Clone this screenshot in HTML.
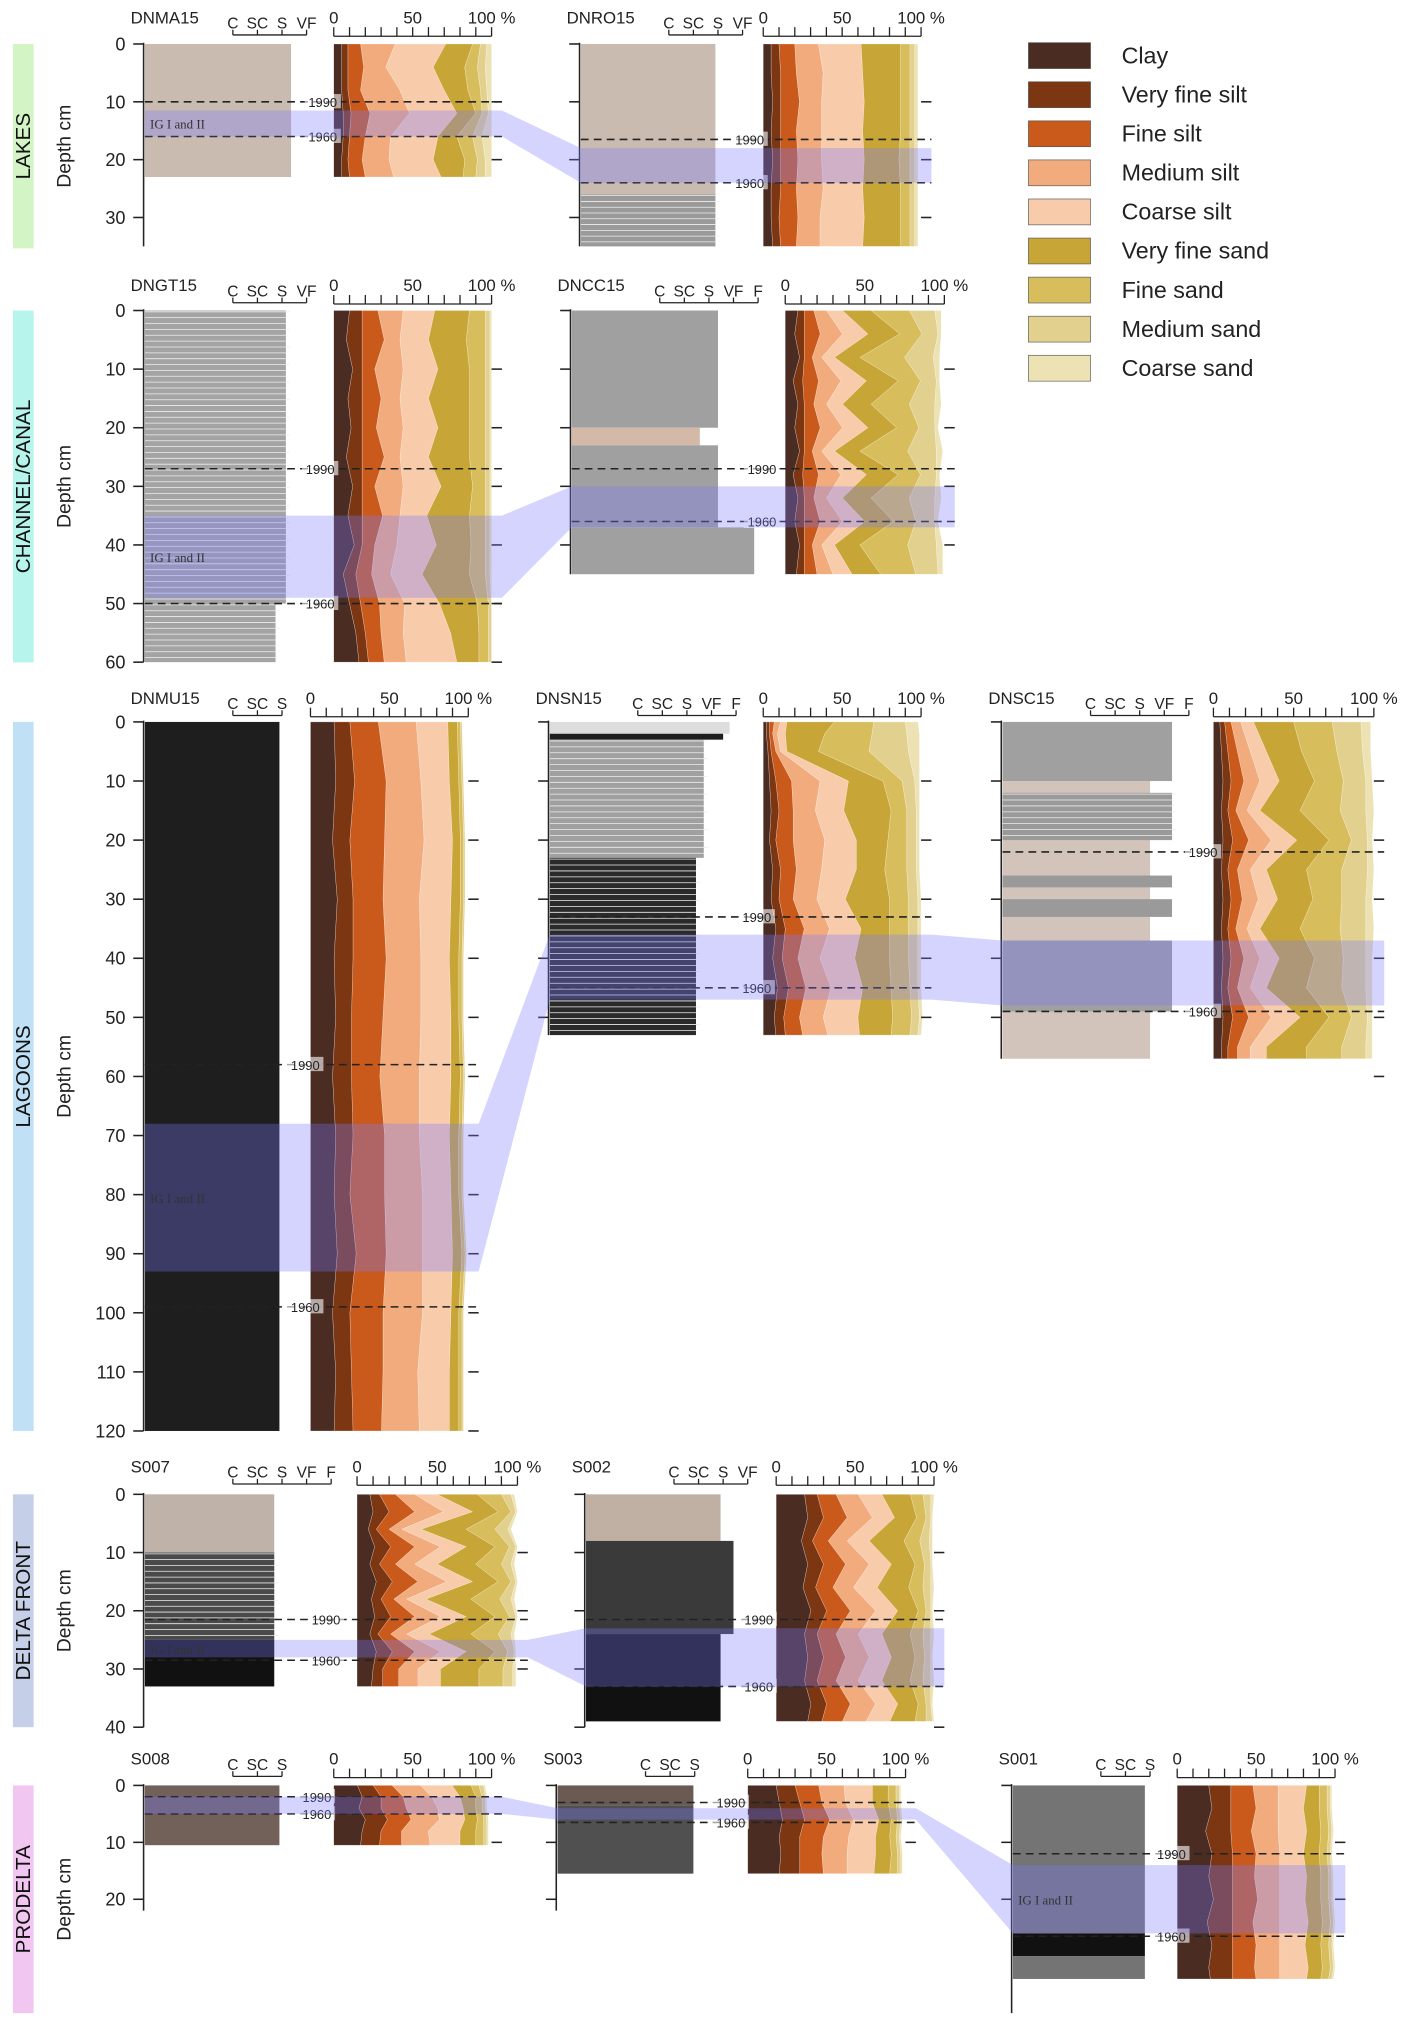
<!DOCTYPE html>
<html><head><meta charset="utf-8"><style>
html,body{margin:0;padding:0;background:#fff;}
svg{display:block;font-family:"Liberation Sans",sans-serif;}
</style></head><body>
<svg id="fig" width="1423" height="2039" viewBox="0 0 1100 1576" preserveAspectRatio="none" xmlns="http://www.w3.org/2000/svg">
<g id="layer"></g>
</svg>
<script>
const classNames=["Clay","Very fine silt","Fine silt","Medium silt","Coarse silt","Very fine sand","Fine sand","Medium sand","Coarse sand"];
const classColors=["#4b2c22","#7c3612","#c95a1c","#f2ab7c","#f8cbab","#c7a536","#d8bd5c","#e2d08f","#ede2b4"];

const DNMA15={depth:[0,4,8,12,16,20,23],clay:[5,5,5,6,6,5,5],vfs:[4,4,4,5,4,4,5],fs:[8,10,8,12,10,9,10],ms:[22,14,25,25,16,17,18],cs:[32,30,28,30,30,28,30],vfsa:[17,20,15,12,12,20,14],fsa:[5,8,8,4,10,8,8],msa:[4,5,4,4,6,5,6],csa:[3,4,3,2,6,4,4]};
const DNRO15={depth:[0,5,10,15,20,25,30,35],clay:[5,5,6,5,6,5,5,6],vfs:[5,6,5,6,5,6,5,5],fs:[10,10,12,10,11,10,12,10],ms:[15,17,14,16,15,17,14,15],cs:[27,25,27,26,27,25,28,27],vfsa:[25,24,23,24,22,24,23,24],fsa:[6,6,6,6,7,6,6,6],msa:[3,3,3,3,3,3,3,3],csa:[2,2,2,2,2,2,2,2]};
const DNGT15={depth:[0,5,10,15,20,25,30,35,40,45,50,55,60],clay:[10,8,12,9,11,8,12,9,13,6,10,14,16],vfs:[8,10,6,9,7,10,6,9,5,8,7,6,6],fs:[10,14,8,12,9,14,8,13,8,10,12,10,10],ms:[16,10,18,12,17,10,18,11,14,12,16,14,14],cs:[20,18,22,18,22,18,24,17,25,20,22,30,32],vfsa:[22,24,20,26,20,26,20,27,22,30,24,18,14],fsa:[10,12,10,10,10,10,8,10,9,10,7,6,6],msa:[3,3,3,3,3,3,3,3,3,3,2,2,2],csa:[1,1,1,1,1,1,1,1,1,1,0,0,0]};
const DNCC15={depth:[0,4,8,12,16,20,24,28,32,36,40,45],clay:[8,6,9,5,8,6,9,5,8,6,9,7],vfs:[4,6,3,6,4,6,3,6,4,6,3,5],fs:[6,10,5,10,6,10,5,10,6,10,5,8],ms:[8,14,6,14,8,14,6,14,8,14,6,10],cs:[10,16,8,16,10,16,8,16,10,14,8,12],vfsa:[18,20,16,20,18,18,16,20,18,18,16,18],fsa:[24,14,28,14,24,14,30,14,24,14,30,22],msa:[16,10,18,10,16,10,18,10,16,12,18,14],csa:[4,2,4,2,4,2,4,2,4,2,4,3]};
const DNMU15={depth:[0,10,20,30,40,50,60,70,80,90,100,110,120],clay:[15,16,14,17,15,16,14,16,15,17,14,16,15],vfs:[10,12,11,10,12,10,12,11,10,12,11,10,12],fs:[18,20,22,19,21,20,18,20,22,19,21,20,18],ms:[24,22,25,23,22,24,25,22,24,23,25,22,24],cs:[20,18,18,20,18,19,20,19,18,19,18,20,19],vfsa:[6,6,5,6,6,5,6,6,5,6,5,6,6],fsa:[2,2,2,2,2,2,2,2,2,2,2,2,2],msa:[1,1,1,1,1,1,1,1,1,1,1,1,1],csa:[0,0,0,0,0,0,0,0,0,0,0,0,0]};
const DNSN15={depth:[0,2,5,10,15,20,25,30,35,40,45,50,53],clay:[2,2,3,4,5,4,6,5,8,6,9,7,8],vfs:[2,2,2,4,5,4,5,5,6,6,7,6,6],fs:[3,2,3,10,9,11,10,9,12,10,11,10,11],ms:[4,3,3,18,14,20,16,15,16,14,16,15,16],cs:[4,5,4,18,18,20,22,18,20,22,20,22,20],vfsa:[30,25,20,22,30,20,18,28,18,22,18,22,20],fsa:[25,30,32,12,10,12,14,12,12,12,12,12,12],msa:[20,22,25,8,6,6,6,6,6,6,5,5,5],csa:[8,8,7,3,2,2,2,2,2,2,2,2,2]};
const DNSC15={depth:[0,5,10,15,20,25,30,35,40,45,50,55,57],clay:[4,5,6,5,6,5,6,5,6,5,6,5,5],vfs:[3,4,5,4,6,4,5,4,5,4,6,4,4],fs:[4,6,8,5,10,6,7,5,8,6,10,6,6],ms:[6,8,10,7,14,8,10,7,10,8,14,8,8],cs:[8,10,12,8,16,10,12,8,12,10,18,10,10],vfsa:[25,22,22,25,20,25,22,25,22,25,18,25,25],fsa:[24,22,18,25,14,22,18,25,18,22,14,22,22],msa:[18,16,14,16,10,16,15,16,14,15,10,15,15],csa:[6,5,4,5,3,4,4,5,4,4,3,4,4]};
const S007={depth:[0,3,6,9,12,15,18,21,24,27,30,33],clay:[8,10,7,11,8,12,9,11,8,12,10,9],vfs:[6,10,5,10,6,10,6,10,5,10,6,7],fs:[10,16,8,15,10,16,8,15,8,14,10,10],ms:[12,18,8,16,12,18,8,16,10,16,12,12],cs:[14,18,12,16,14,16,12,16,14,16,14,14],vfsa:[25,16,28,18,24,16,28,18,26,18,24,24],fsa:[15,8,18,9,16,8,18,9,17,8,15,15],msa:[6,3,8,4,6,3,7,4,8,4,6,6],csa:[2,1,2,1,2,1,2,1,2,1,2,2]};
const S002={depth:[0,4,8,12,16,20,24,28,32,36,39],clay:[18,20,16,20,17,22,18,20,18,22,20],vfs:[8,10,7,10,8,10,8,10,8,10,9],fs:[12,15,10,14,11,15,12,14,12,15,13],ms:[14,16,12,15,13,16,14,15,14,16,15],cs:[15,14,14,14,15,14,15,14,15,14,15],vfsa:[18,14,22,15,20,13,18,15,18,13,16],fsa:[8,6,10,6,9,5,8,6,8,5,7],msa:[5,3,6,4,5,3,5,4,5,3,4],csa:[2,1,2,1,2,1,2,1,2,1,1]};
const S008={depth:[0,2,4,6,8,10.5],clay:[15,18,16,20,18,17],vfs:[10,12,14,14,12,12],fs:[12,14,16,15,13,14],ms:[18,18,20,18,17,18],cs:[20,18,16,16,20,19],vfsa:[12,10,8,8,10,10],fsa:[5,4,4,4,5,5],msa:[3,2,2,2,2,2],csa:[1,1,1,1,1,1]};
const S003={depth:[0,3,6,9,12,15.5],clay:[18,20,22,20,21,20],vfs:[12,13,14,13,12,13],fs:[15,14,16,15,14,15],ms:[16,15,15,16,16,15],cs:[18,17,16,17,18,17],vfsa:[10,10,8,9,10,10],fsa:[5,5,4,4,4,5],msa:[2,2,2,2,2,2],csa:[1,1,1,1,1,1]};
const S001={depth:[0,4,8,12,16,20,24,28,32,34],clay:[20,22,18,22,20,23,19,22,20,21],vfs:[14,12,16,13,15,12,16,13,15,14],fs:[14,16,13,15,14,16,13,15,14,15],ms:[16,14,17,15,16,14,17,15,16,15],cs:[18,16,18,15,17,16,18,16,18,17],vfsa:[8,10,9,10,9,10,9,10,9,9],fsa:[5,5,5,5,5,5,5,5,5,5],msa:[2,2,2,2,2,2,2,2,2,2],csa:[1,1,1,1,1,1,1,1,1,1]};

const dates1990=[10,16.5,27,27,58,33,22,21.5,21.5,2,3,12];
const dates1960=[16,24,50,36,99,45,49,28.5,33,5,6.5,26.5];
const igTop=[11.5,18,35,30,68,36,37,25,23,2,4,14];
const igBot=[16,24,49,37,93,47,48,28,33,5,6,26];

const NS="http://www.w3.org/2000/svg";
const L=document.getElementById('layer');
function mk(tag,attrs,parent){const e=document.createElementNS(NS,tag);for(const k in attrs)e.setAttribute(k,attrs[k]);(parent||L).appendChild(e);return e;}
function txt(x,y,s,size,extra,parent){const t=mk('text',Object.assign({x:x,y:y,'font-size':size,fill:'#222'},extra||{}),parent);t.textContent=s;return t;}

const rows=[
 {label:"LAKES",color:"#d3f5c6",top:34,bot:192,y0:34,s:4.47,max:35,ticks:[0,10,20,30]},
 {label:"CHANNEL/CANAL",color:"#b6f4ec",top:240,bot:512,y0:240,s:4.53,max:60,ticks:[0,10,20,30,40,50,60]},
 {label:"LAGOONS",color:"#bfe0f5",top:558,bot:1106,y0:558,s:4.567,max:120,ticks:[0,10,20,30,40,50,60,70,80,90,100,110,120]},
 {label:"DELTA FRONT",color:"#c6cfe8",top:1155,bot:1335,y0:1155,s:4.5,max:40,ticks:[0,10,20,30,40]},
 {label:"PRODELTA",color:"#f1c6f1",top:1380,bot:1556,y0:1380,s:4.4,max:22,ticks:[0,10,20]}
];
const rowTop=[0,207,526,1120,1346];
const cores=[
 {name:"DNMA15",data:DNMA15,row:0,ax:111,cx:[258,380],axMax:35,lab:["C","SC","S","VF"],first:true},
 {name:"DNRO15",data:DNRO15,row:0,ax:448,cx:[590,712],axMax:35,lab:["C","SC","S","VF"]},
 {name:"DNGT15",data:DNGT15,row:1,ax:111,cx:[258,380],axMax:60,lab:["C","SC","S","VF"],first:true},
 {name:"DNCC15",data:DNCC15,row:1,ax:441,cx:[607,730],axMax:45,lab:["C","SC","S","VF","F"]},
 {name:"DNMU15",data:DNMU15,row:2,ax:111,cx:[240,362],axMax:120,lab:["C","SC","S"],first:true},
 {name:"DNSN15",data:DNSN15,row:2,ax:424,cx:[590,712],axMax:53,lab:["C","SC","S","VF","F"]},
 {name:"DNSC15",data:DNSC15,row:2,ax:774,cx:[938,1062],axMax:57,lab:["C","SC","S","VF","F"]},
 {name:"S007",data:S007,row:3,ax:111,cx:[276,400],axMax:40,lab:["C","SC","S","VF","F"],first:true},
 {name:"S002",data:S002,row:3,ax:452,cx:[600,722],axMax:40,lab:["C","SC","S","VF"]},
 {name:"S008",data:S008,row:4,ax:111,cx:[258,380],axMax:22,lab:["C","SC","S"],first:true},
 {name:"S003",data:S003,row:4,ax:430,cx:[578,700],axMax:22,lab:["C","SC","S"]},
 {name:"S001",data:S001,row:4,ax:782,cx:[910,1032],axMax:40,lab:["C","SC","S"]}
];
const litho=[
 [[1,114,0,23,"#c9bbb0",0]],
 [[1,105,0,26,"#c9bbb0",0],[1,105,26,35,"#9a9a9a",1]],
 [[1,110,0,50,"#a4a4a4",1],[1,102,50,60,"#a4a4a4",1]],
 [[1,114,0,20,"#a0a0a0",0],[1,100,20,23,"#d4b8a8",0],[1,114,23,37,"#a0a0a0",0],[1,142,37,45,"#a0a0a0",0]],
 [[1,105,0,120,"#1e1e1e",0]],
 [[1,140,0,2,"#dddddd",0],[1,135,2,3,"#1e1e1e",0],[1,120,3,23,"#a0a0a0",1],[1,114,23,53,"#2a2a2a",1]],
 [[1,132,0,10,"#a0a0a0",0],[1,115,10,57,"#d2c4ba",0],[1,132,12,20,"#9a9a9a",1],[1,132,26,28,"#9a9a9a",0],[1,132,30,33,"#9a9a9a",0],[1,132,37,49,"#a0a0a0",0]],
 [[1,101,0,10,"#bfb2a8",0],[1,101,10,25,"#4a4a4a",1],[1,101,25,33,"#111",0]],
 [[1,105,0,8,"#c0b0a4",0],[1,115,8,24,"#3a3a3a",0],[1,105,24,39,"#111",0]],
 [[1,105,0,10.5,"#716158",0]],
 [[1,106,0,3.5,"#6a5a52",0],[1,106,3.5,15.5,"#505050",0]],
 [[1,103,0,26,"#747474",0],[1,103,26,30,"#111",0],[1,103,30,34,"#747474",0]]
];
const keys=["clay","vfs","fs","ms","cs","vfsa","fsa","msa","csa"];

rows.forEach((r,i)=>{
 const g=mk('g',{});
 
 
 mk('rect',{x:10,y:r.top,width:16,height:r.bot-r.top,fill:r.color},g);
 const cy=(r.top+r.bot)/2;
 txt(18,cy,r.label,16,{transform:`rotate(-90 18 ${cy})`,'text-anchor':'middle','dominant-baseline':'central',fill:'#111'},g);
 const yl=txt(50,cy,"Depth cm",15,{transform:`rotate(-90 50 ${cy})`,'text-anchor':'middle','dominant-baseline':'central'},g);
 
 
});

cores.forEach((c,ci)=>{
 const r=rows[c.row];
 const ty=rowTop[c.row];
 const Y=d=>r.y0+d*r.s;
 const X=p=>c.cx[0]+p/100*(c.cx[1]-c.cx[0]);
 const g=mk('g',{});
 
 
 litho[ci].forEach(b=>{
  mk('rect',{x:c.ax+b[0],y:Y(b[2]),width:b[1]-b[0],height:Y(b[3])-Y(b[2]),fill:b[4]},g);
  if(b[5]){for(let d=b[2];d<b[3];d+=1){mk('line',{x1:c.ax+b[0],x2:c.ax+b[1]+(d%3?0:3),y1:Y(d)+1,y2:Y(d)+1,stroke:'#eee','stroke-width':0.6},g);}}
 });
 mk('line',{x1:c.ax,x2:c.ax,y1:Y(0)-1,y2:Y(c.first?r.max:c.axMax),stroke:'#222','stroke-width':1.2},g);
 r.ticks.filter(t=>t<=(c.first?r.max:c.axMax)).forEach(t=>{
  mk('line',{x1:c.ax-8,x2:c.ax,y1:Y(t),y2:Y(t),stroke:'#222','stroke-width':1.2},g);
  if(c.first) txt(c.ax-14,Y(t)+5,String(t),14,{'text-anchor':'end'},g);
 });
 const colLeft=c.ax+69;
 mk('line',{x1:colLeft,x2:colLeft+19*(c.lab.length-1),y1:27+ty,y2:27+ty,stroke:'#222'},g);
 c.lab.forEach((l,i)=>{txt(colLeft+19*i,22+ty,l,12,{'text-anchor':'middle'},g);mk('line',{x1:colLeft+19*i,x2:colLeft+19*i,y1:23+ty,y2:27+ty,stroke:'#222'},g);});
 const name=txt(c.ax-10,18+ty,c.name,13,{},g);
 
 
 const D=c.data;
 const cum=D.depth.map((_,i)=>{let s=0;return [0].concat(keys.map(k=>s+=D[k][i]));});
 keys.forEach((k,ki)=>{
  const up=D.depth.map((d,i)=>X(cum[i][ki+1])+','+Y(d));
  const lo=D.depth.map((d,i)=>X(cum[i][ki])+','+Y(d)).reverse();
  const p=mk('polygon',{points:up.concat(lo).join(' '),fill:classColors[ki],stroke:'#fff','stroke-width':0.3,'stroke-opacity':0.6},g);
  
  
 });
 mk('line',{x1:X(0),x2:X(100),y1:28+ty,y2:28+ty,stroke:'#222'},g);
 [0,10,20,30,40,50,60,70,80,90,100].forEach(p=>mk('line',{x1:X(p),x2:X(p),y1:21+ty,y2:28+ty,stroke:'#222'},g));
 txt(X(0),18+ty,"0",13,{'text-anchor':'middle'},g);
 txt(X(50),18+ty,"50",13,{'text-anchor':'middle'},g);
 txt(X(100),18+ty,"100 %",13,{'text-anchor':'middle'},g);
 r.ticks.filter(t=>t>0&&t<=D.depth[D.depth.length-1]+3).forEach(t=>mk('line',{x1:c.cx[1],x2:c.cx[1]+8,y1:Y(t),y2:Y(t),stroke:'#222','stroke-width':1.2},g));
 [[dates1990[ci],"1990"],[dates1960[ci],"1960"]].forEach(([d,l])=>{
  mk('line',{x1:c.ax+1,x2:c.cx[1]+8,y1:Y(d),y2:Y(d),stroke:'#222','stroke-width':1.2,'stroke-dasharray':'6,4'},g);
  const lx=(litho[ci][0][1]+c.ax+c.cx[0])/2+8;
  mk('rect',{x:lx-14,y:Y(d)-6,width:28,height:11,fill:'rgba(255,255,255,0.6)'},g);
  txt(lx,Y(d)+4,l,10,{'text-anchor':'middle'},g);
 });
});
const bandRows=[[0,1],[2,3],[4,5,6],[7,8],[9,10,11]];
bandRows.forEach((ids,bi)=>{
 const r=rows[cores[ids[0]].row];
 const Y=d=>r.y0+d*r.s;
 const top=[],bot=[];
 ids.forEach(ci=>{const c=cores[ci];
  top.push([c.ax+1,Y(igTop[ci])],[c.cx[1]+8,Y(igTop[ci])]);
  bot.push([c.ax+1,Y(igBot[ci])],[c.cx[1]+8,Y(igBot[ci])]);});
 const pts=top.concat(bot.reverse()).map(p=>p.join(',')).join(' ');
 const p=mk('polygon',{points:pts,fill:'rgba(120,120,255,0.32)'});
 
 
 const ci0=ids.includes(11)?11:ids[0];
 const c0=cores[ci0];
 txt(c0.ax+5,Y((igTop[ci0]+igBot[ci0])/2)+4,"IG I and II",10,{'font-family':'Liberation Serif, serif',fill:'#333'});
});
const lg=mk('g',{});


classNames.forEach((n,i)=>{
 const y=33+i*30.2;
 const e=mk('g',{},lg);
 
 
 mk('rect',{x:795,y:y,width:48,height:20,fill:classColors[i],stroke:'#555','stroke-width':0.5},e);
 txt(867,y+16,n,18,{},e);
});
</script>
</body></html>
